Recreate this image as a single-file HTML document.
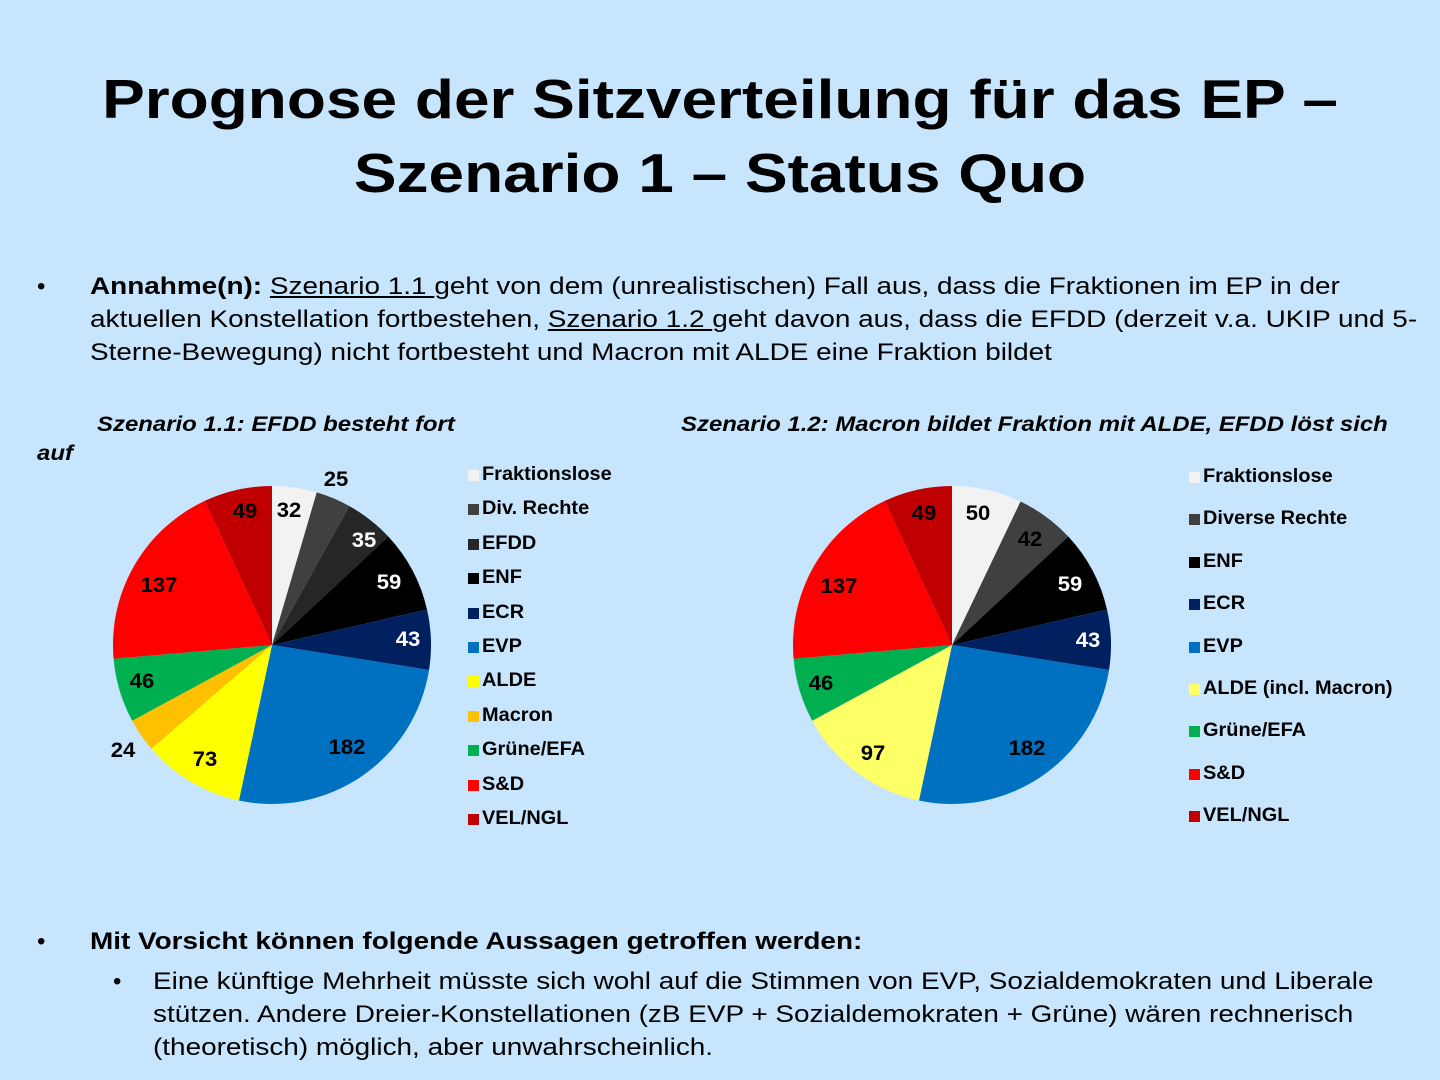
<!DOCTYPE html>
<html><head><meta charset="utf-8"><style>
body{margin:0;width:1440px;height:1080px;background:#c7e5fc;font-family:"Liberation Sans",sans-serif;position:relative;overflow:hidden}
.t{position:absolute;white-space:nowrap}
.sx{transform:scaleX(1.163);transform-origin:0 0}
h1{position:absolute;left:0;width:1440px;text-align:center;margin:0;font-size:55px;font-weight:bold;line-height:74px;top:62px;transform:scaleX(1.163);transform-origin:720px 0}
.b{font-size:24px;line-height:33px}
.lg{font-size:19px;font-weight:bold;transform:scaleX(1.05);transform-origin:0 0}
.sq{position:absolute;width:11px;height:11px}
.pl{font-size:21px;font-weight:bold;position:absolute;transform:translate(-50%,-50%) scaleX(1.05)}
.st{font-size:21px;font-weight:bold;font-style:italic;transform:scaleX(1.14);transform-origin:0 0}
</style></head><body>
<h1>Prognose der Sitzverteilung für das EP –<br>Szenario 1 – Status Quo</h1>
<div class="t b" style="left:37px;top:270px">•</div>
<div class="t b sx" style="left:90px;top:270px"><b>Annahme(n):</b> <u>Szenario 1.1 </u>geht von dem (unrealistischen) Fall aus, dass die Fraktionen im EP in der<br>aktuellen Konstellation fortbestehen, <u>Szenario 1.2 </u>geht davon aus, dass die EFDD (derzeit v.a. UKIP und 5-<br>Sterne-Bewegung) nicht fortbesteht und Macron mit ALDE eine Fraktion bildet</div>
<div class="t st" style="left:97px;top:413px">Szenario 1.1: EFDD besteht fort</div>
<div class="t st" style="left:37px;top:442px">auf</div>
<div class="t st" style="left:681px;top:413px">Szenario 1.2: Macron bildet Fraktion mit ALDE, EFDD löst sich</div>
<svg id="s" width="1440" height="1080" style="position:absolute;left:0;top:0"></svg>
<div id="o"></div>
<div class="t b" style="left:37px;top:925px">•</div>
<div class="t b sx" style="left:90px;top:925px"><b>Mit Vorsicht können folgende Aussagen getroffen werden:</b></div>
<div class="t b" style="left:113px;top:965px">•</div>
<div class="t b sx" style="left:153px;top:965px">Eine künftige Mehrheit müsste sich wohl auf die Stimmen von EVP, Sozialdemokraten und Liberale<br>stützen. Andere Dreier-Konstellationen (zB EVP + Sozialdemokraten + Grüne) wären rechnerisch<br>(theoretisch) möglich, aber unwahrscheinlich.</div>
<script>
const s=document.getElementById('s'),o=document.getElementById('o');
function pie(cx,cy,r,d){let tot=d.reduce((a,b)=>a+b[1],0),a=0,h='';
d.forEach(([c,v])=>{let a0=a/tot*2*Math.PI,a1=(a+v)/tot*2*Math.PI;a+=v;
let x0=cx+r*Math.sin(a0),y0=cy-r*Math.cos(a0),x1=cx+r*Math.sin(a1),y1=cy-r*Math.cos(a1);
h+=`<path d="M${cx},${cy}L${x0},${y0}A${r},${r} 0 ${a1-a0>Math.PI?1:0} 1 ${x1},${y1}Z" fill="${c}"/>`;});
s.innerHTML+=h;}
pie(272,645,159,[['#f2f2f2',32],['#404040',25],['#262626',35],['#000',59],['#002060',43],['#0070c0',182],['#ffff00',73],['#ffc000',24],['#00b050',46],['#ff0000',137],['#c00000',49]]);
pie(952,645,159,[['#f2f2f2',50],['#404040',42],['#000',59],['#002060',43],['#0070c0',182],['#ffff66',97],['#00b050',46],['#ff0000',137],['#c00000',49]]);
let h='';
function L(x,y,t,c){h+=`<div class="pl" style="left:${x}px;top:${y}px;color:${c||'#000'}">${t}</div>`}
L(289,511,32);L(336,480,25);L(364,541,35,'#fff');L(389,583,59,'#fff');L(408,640,43,'#fff');L(347,748,182);L(205,760,73);L(123,751,24);L(142,682,46);L(159,586,137);L(245,512,49);
L(978,514,50);L(1030,540,42);L(1070,585,59,'#fff');L(1088,641,43,'#fff');L(1027,749,182);L(873,754,97);L(821,684,46);L(839,587,137);L(924,514,49);
function G(x,y0,st,items){items.forEach(([c,t],i)=>{let y=y0+i*st;h+=`<div class="sq" style="left:${x}px;top:${y-5}px;background:${c}"></div><div class="t lg" style="left:${x+14}px;top:${y-11}px">${t}</div>`})}
G(468,475,34.4,[['#f2f2f2','Fraktionslose'],['#404040','Div. Rechte'],['#262626','EFDD'],['#000','ENF'],['#002060','ECR'],['#0070c0','EVP'],['#ffff00','ALDE'],['#ffc000','Macron'],['#00b050','Grüne/EFA'],['#ff0000','S&amp;D'],['#c00000','VEL/NGL']]);
G(1189,477,42.4,[['#f2f2f2','Fraktionslose'],['#404040','Diverse Rechte'],['#000','ENF'],['#002060','ECR'],['#0070c0','EVP'],['#ffff66','ALDE (incl. Macron)'],['#00b050','Grüne/EFA'],['#ff0000','S&amp;D'],['#c00000','VEL/NGL']]);
o.innerHTML=h;
</script>
</body></html>
